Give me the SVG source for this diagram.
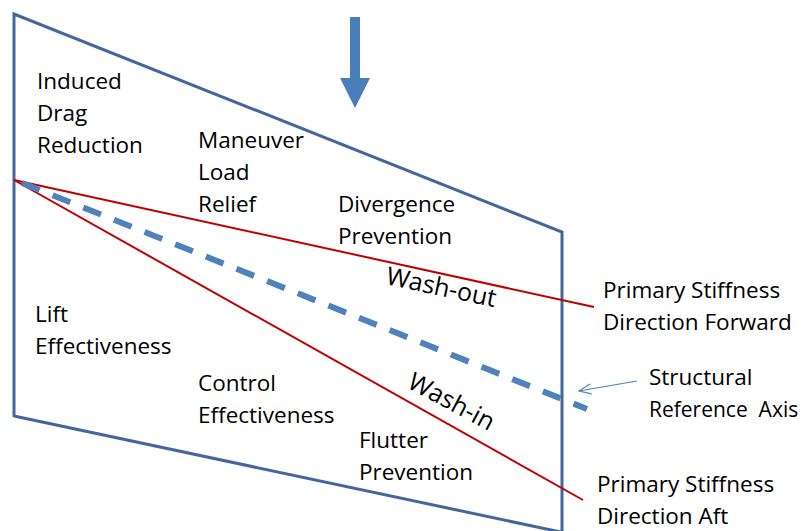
<svg xmlns="http://www.w3.org/2000/svg" width="807" height="531" viewBox="0 0 807 531">
<defs>
<style>
.t{font-family:"Open Sans","Liberation Sans",sans-serif;font-size:22.5px;fill:#000}
.w{font-family:"Open Sans","Liberation Sans",sans-serif;font-size:25px;fill:#000}
.wing{fill:none;stroke:#44679B;stroke-width:3;stroke-linejoin:miter}
.red{fill:none;stroke:#C00000;stroke-width:2}
</style>
<marker id="open" markerWidth="14" markerHeight="12" refX="13" refY="6" orient="auto" markerUnits="userSpaceOnUse">
<path d="M1,1 L13,6 L1,11" fill="none" stroke="#4F81BD" stroke-width="1.2"/>
</marker>
</defs>
<rect width="807" height="531" fill="#fff"/>
<g id="wing">
<polyline class="wing" points="14,417 14,14 562,232 562,534"/>
<line class="wing" x1="14" y1="416" x2="570" y2="534"/>
</g>
<g id="connectors">
<line class="red" x1="14" y1="180" x2="594" y2="307"/>
<line class="red" x1="14" y1="180" x2="583" y2="500"/>
<line x1="22" y1="183" x2="587" y2="409" stroke="#4F81BD" stroke-width="6" stroke-dasharray="19,14"/>
<line x1="637" y1="381" x2="579" y2="391" stroke="#4F81BD" stroke-width="1.2" marker-end="url(#open)"/>
<path id="load-arrow" d="M350,17 H360 V78 H370 L355,108 L340,78 H350 Z" fill="#4A7EBB"/>
</g>
<g id="induced-drag">
<text class="t" x="37" y="89">Induced</text>
<text class="t" x="37" y="121">Drag</text>
<text class="t" x="37" y="153">Reduction</text>
</g>
<g id="maneuver">
<text class="t" x="198" y="148">Maneuver</text>
<text class="t" x="198" y="180">Load</text>
<text class="t" x="198" y="212">Relief</text>
</g>
<g id="divergence">
<text class="t" x="338" y="212">Divergence</text>
<text class="t" x="338" y="244">Prevention</text>
</g>
<g id="lift">
<text class="t" x="35" y="322">Lift</text>
<text class="t" x="35" y="354">Effectiveness</text>
</g>
<g id="control">
<text class="t" x="198" y="391">Control</text>
<text class="t" x="198" y="423">Effectiveness</text>
</g>
<g id="flutter">
<text class="t" x="359" y="448">Flutter</text>
<text class="t" x="359" y="480">Prevention</text>
</g>
<g id="forward">
<text class="t" x="603" y="298">Primary Stiffness</text>
<text class="t" x="603" y="330">Direction Forward</text>
</g>
<g id="axis">
<text class="t" x="649" y="385">Structural</text>
<text class="t" x="649" y="417" xml:space="preserve" style="font-size:21px">Reference  Axis</text>
</g>
<g id="aft">
<text class="t" x="597" y="492">Primary Stiffness</text>
<text class="t" x="597" y="524">Direction Aft</text>
</g>
<g id="washout">
<text class="w" transform="translate(385,284) rotate(12)">Wash-out</text>
</g>
<g id="washin">
<text class="w" transform="translate(406,387) rotate(28)">Wash-in</text>
</g>
</svg>
